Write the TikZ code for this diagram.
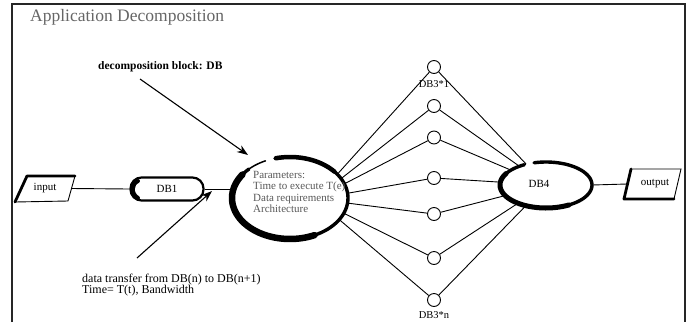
\documentclass[tikz,border=0pt]{standalone}
\usepackage{fontspec}
\setmainfont{Liberation Serif}
\usetikzlibrary{shapes.geometric,arrows.meta}
\begin{document}
\begin{tikzpicture}[x=1pt,y=-1pt,
  conn/.style={line width=0.9pt},
  pointer/.style={line width=1.1pt,-{Stealth[length=11pt,width=8pt]}},
  txt/.style={inner sep=0pt,font=\fontsize{11}{12}\selectfont},
  ptxt/.style={inner sep=0pt,anchor=base west,text=black!65,font=\fontsize{11}{12}\selectfont},
  smallc/.style={circle,draw,line width=0.9pt,minimum size=13pt,inner sep=0pt,fill=white},
  brush/.style={line width=3.4pt,line cap=round,line join=round},
  heavy/.style={line width=6.5pt,line cap=round,line join=round},
  hidden/.style={rectangle,inner sep=0pt}
]
\useasboundingbox (0,0) rectangle (688,322);
% frame
\draw[line width=1.6pt,black!85] (12,322) -- (12,4) -- (685,4) -- (685,322);
% title
\node[anchor=base west,inner sep=0pt,text=black!60,font=\fontsize{17.5}{20}\selectfont] (title) at (30,21) {Application Decomposition};
% labels
\node[anchor=base west,inner sep=0pt,font=\bfseries\fontsize{11.5}{13}\selectfont] (dblabel) at (98,69) {decomposition block: DB};
\node[anchor=base west,inner sep=0pt,font=\fontsize{12}{13}\selectfont] (dtlabel) at (82,282) {data transfer from DB(n) to DB(n+1)};
\node[anchor=base west,inner sep=0pt,font=\fontsize{12}{13}\selectfont] (dtlabel2) at (82,293) {Time= T(t), Bandwidth};
\coordinate (a1s) at (140,79);
\coordinate (a1e) at (248,155);
\coordinate (a2s) at (137,258);
\coordinate (a2e) at (212,191);
% input
\draw[conn] (27,176) -- (75,176) -- (68,201) -- (15,202) -- cycle;
\draw[line width=2.8pt,line cap=round,line join=round] (75,176) -- (27,176) -- (15,202);
\node[hidden,minimum width=52pt,minimum height=26pt] (input) at (45,188.5) {};
\node[txt] (inputtxt) at (45,188) {input};
% DB1
\node[draw,line width=2.2pt,rounded corners=11pt,minimum width=73pt,minimum height=23pt,inner sep=0pt,font=\fontsize{11}{12}\selectfont] (db1) at (167,189) {DB1};
\draw[line width=4pt,line cap=round] (138,181) .. controls (131,184) and (131,194) .. (138,198);
\draw[conn] (input.east) -- (db1.west);
% small circles
\node[smallc] (c1) at (434,67) {};
\node[smallc] (c2) at (434,106) {};
\node[smallc] (c3) at (434,137.5) {};
\node[smallc] (c4) at (434,178) {};
\node[smallc] (c5) at (434,214) {};
\node[smallc] (c6) at (434,258) {};
\node[smallc] (c7) at (434,300) {};
\node[anchor=base,inner sep=0pt,font=\fontsize{10.5}{12}\selectfont] (l1) at (434,87) {DB3*1};
\node[anchor=base,inner sep=0pt,font=\fontsize{10.5}{12}\selectfont] (l7) at (434,318) {DB3*n};
% lines to big block
\coordinate (dbfocus) at (315,199);
\foreach \i in {1,...,7} { \draw[conn] (c\i) -- (dbfocus); }
% big block
\node[ellipse,fill=white,minimum width=116pt,minimum height=82pt,inner sep=0pt] (db) at (290,198) {};
\draw[line width=1.5pt,line cap=round] plot[domain=115:135,samples=10,smooth] ({290+58*cos(\x)},{198-41*sin(\x)});
\draw[brush] plot[domain=135:465,samples=80,smooth] ({290+58*cos(\x)},{198-41*sin(\x)});
\draw[heavy] plot[domain=145:295,samples=40,smooth] ({290+58*cos(\x)},{198-41*sin(\x)});
\draw[line width=4.5pt,line cap=round] plot[domain=40:104,samples=20,smooth] ({290+58*cos(\x)},{198-41*sin(\x)});
\draw[conn] (db1.east) -- (db1.east -| db.west);
\node[ptxt] (p1) at (253,178) {Parameters:};
\node[ptxt] (p2) at (253,189.5) {Time to execute T(e)};
\node[ptxt] (p3) at (253,201) {Data requirements};
\node[ptxt] (p4) at (253,212.5) {Architecture};
% DB4
\node[ellipse,fill=white,minimum width=92pt,minimum height=46pt,inner sep=0pt] (db4) at (546,185) {};
\foreach \i in {1,...,7} { \draw[conn] (c\i) -- (db4); }
\draw[brush] plot[domain=118:465,samples=80,smooth] ({546+46*cos(\x)},{185-23*sin(\x)});
\draw[line width=5pt,line cap=round] plot[domain=150:300,samples=40,smooth] ({546+46*cos(\x)},{185-23*sin(\x)});
\node[txt] (db4txt) at (539,184) {DB4};
% output
\draw[conn] (631,169) -- (681,169) -- (674,199) -- (624,199) -- cycle;
\draw[line width=2.8pt,line cap=round,line join=round] (631,169) -- (624,199) -- (674,199);
\node[hidden,minimum width=50pt,minimum height=30pt] (output) at (652.5,184) {};
\node[txt] (outputtxt) at (655,184) {output};
\draw[conn] (db4.east) -- (output.west);
% pointers
\draw[pointer] (a1s) -- (a1e);
\draw[pointer] (a2s) -- (a2e);
\end{tikzpicture}
\end{document}
